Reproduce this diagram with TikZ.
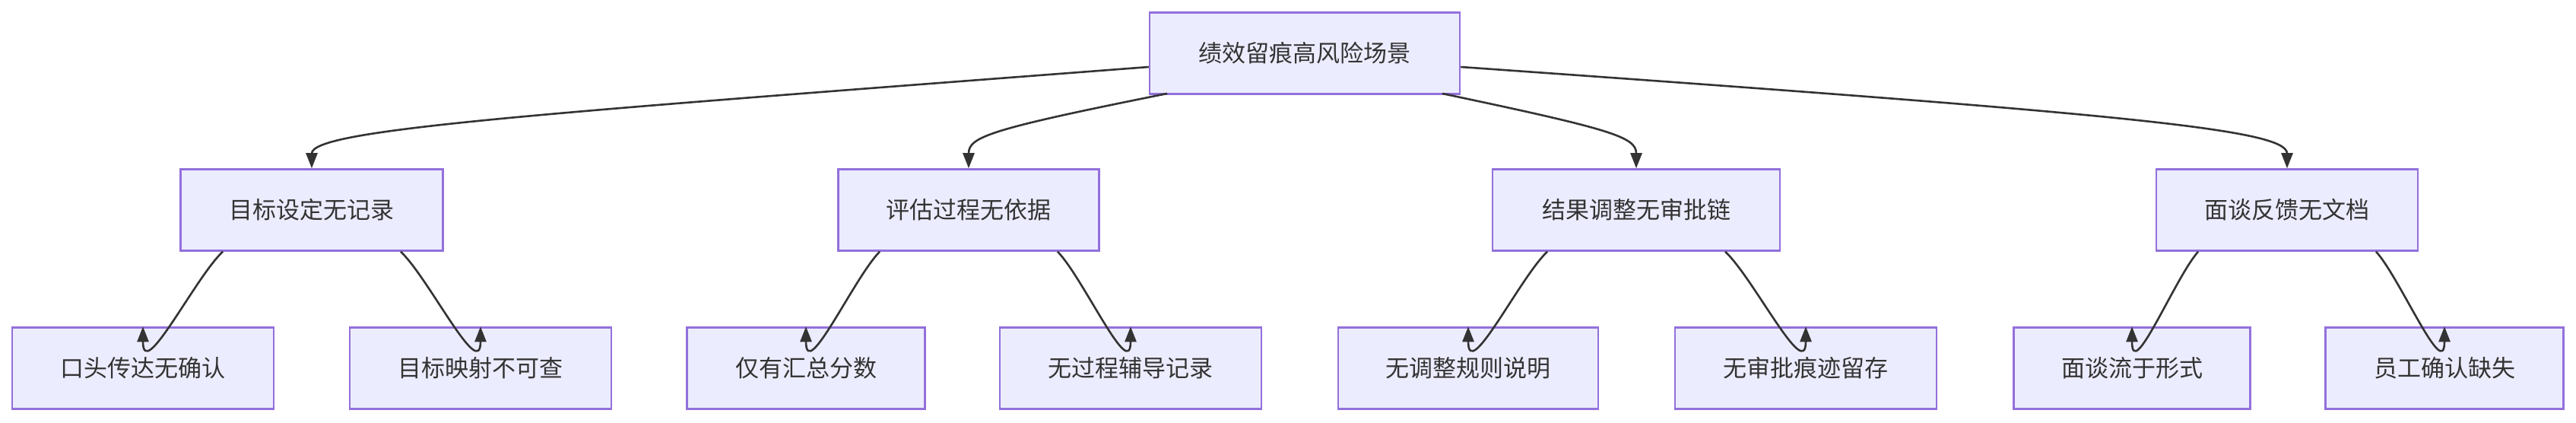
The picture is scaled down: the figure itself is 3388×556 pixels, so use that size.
\documentclass[tikz,border=0pt]{standalone}
\usepackage{fontspec}
\setmainfont{Noto Sans CJK SC}
\usetikzlibrary{arrows.meta,calc}
\definecolor{boxfill}{HTML}{ECECFF}
\definecolor{boxline}{HTML}{9370DB}
\definecolor{edge}{HTML}{333333}
\begin{document}
\begin{tikzpicture}[x=1pt,y=-1pt,
  box/.style={draw=boxline,fill=boxfill,line width=2.5pt,minimum height=107pt,inner sep=0pt,font=\fontsize{31}{37}\selectfont,text=edge},
  arr/.style={draw=edge,line width=2.6pt,-{Triangle[length=20pt,width=15pt]}}]
\useasboundingbox (0,0) rectangle (3388,556);
\node[box,minimum width=408pt] (r) at (1716,70) {绩效留痕高风险场景};
\node[box,minimum width=345pt] (a) at (410,276) {目标设定无记录};
\node[box,minimum width=343pt] (b) at (1274,276) {评估过程无依据};
\node[box,minimum width=378pt] (c) at (2152,276) {结果调整无审批链};
\node[box,minimum width=344pt] (d) at (3008,276) {面谈反馈无文档};
\node[box,minimum width=344pt] (a1) at (188,484) {口头传达无确认};
\node[box,minimum width=344pt] (a2) at (632,484) {目标映射不可查};
\node[box,minimum width=313pt] (b1) at (1060,484) {仅有汇总分数};
\node[box,minimum width=344pt] (b2) at (1487,484) {无过程辅导记录};
\node[box,minimum width=342pt] (c1) at (1931,484) {无调整规则说明};
\node[box,minimum width=344pt] (c2) at (2375,484) {无审批痕迹留存};
\node[box,minimum width=311pt] (d1) at (2804,484) {面谈流于形式};
\node[box,minimum width=313pt] (d2) at (3215,484) {员工确认缺失};
\draw[arr] (r.west|-0,88) .. controls (700,150) and (410,170) .. (a.north);
\draw[arr] (1535,123) .. controls (1300,170) and (1274,180) .. (b.north);
\draw[arr] (1897,123) .. controls (2120,170) and (2152,180) .. (c.north);
\draw[arr] (r.east|-0,88) .. controls (2800,150) and (3008,170) .. (d.north);
\foreach \p/\l/\r in {a/a1/a2,b/b1/b2,c/c1/c2,d/d1/d2}{
  \coordinate (s1) at ([xshift=-117pt]\p.south);
  \coordinate (s2) at ([xshift=117pt]\p.south);
  \draw[arr] (s1) .. controls ($(s1)!0.35!(\l.north)$) and ([yshift=-75pt]\l.north) .. (\l.north);
  \draw[arr] (s2) .. controls ($(s2)!0.35!(\r.north)$) and ([yshift=-75pt]\r.north) .. (\r.north);
}
\end{tikzpicture}
\end{document}
